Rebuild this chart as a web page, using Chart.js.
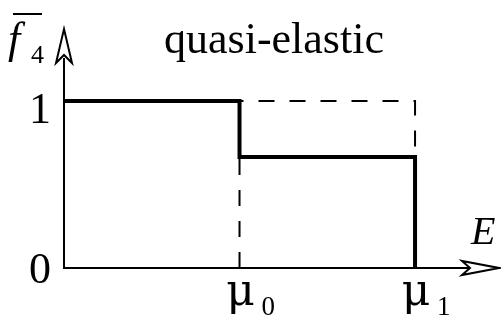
<!DOCTYPE html>
<html>
<head>
<meta charset="utf-8">
<script src="https://cdn.jsdelivr.net/npm/chart.js@4/dist/chart.umd.min.js"></script>
<style>
  html, body { margin: 0; padding: 0; background: #fff; }
  #box { width: 501px; height: 320px; }
</style>
</head>
<body>
<div id="box"><canvas id="myChart"></canvas></div>
<script>
// step function f4 over energy, edges at mu0 (x=1) and mu1 (x=2)
const stepX = [0, 1, 2];
const stepY = [1, 0.665, 0];

// dashed outline of the full-height box
const boundX = [1, 1, 2];
const boundY = [0, 1, 0.665];

const yTicks = [0, 1];
const xTicks = [1, 2];
const xTickSubs = ['0', '1'];

const xMax = 2.484;
const yMax = 1.437;

const serif = '"Liberation Serif", "DejaVu Serif", serif';

function toPoints(xs, ys) {
    return xs.map((x, i) => ({ x: x, y: ys[i] }));
}

function openArrow(ctx, tipX, tipY, dirX, dirY, len, half, notch) {
    // unit direction and its normal
    const nx = -dirY, ny = dirX;
    const bx = tipX - dirX * len, by = tipY - dirY * len;
    ctx.beginPath();
    ctx.moveTo(tipX, tipY);
    ctx.lineTo(bx + nx * half, by + ny * half);
    ctx.lineTo(tipX - dirX * (len - notch), tipY - dirY * (len - notch));
    ctx.lineTo(bx - nx * half, by - ny * half);
    ctx.closePath();
    ctx.fillStyle = '#fff';
    ctx.fill();
    ctx.stroke();
}

const axesPlugin = {
    id: 'axesPlugin',
    afterDatasetsDraw(chart) {
        const ctx = chart.ctx;
        const xs = chart.scales.x;
        const ys = chart.scales.y;
        const ox = xs.getPixelForValue(0);
        const oy = ys.getPixelForValue(0);
        const right = xs.getPixelForValue(xMax);
        const top = ys.getPixelForValue(yMax);

        ctx.save();
        ctx.strokeStyle = '#000';
        ctx.lineWidth = 2;
        ctx.lineJoin = 'miter';

        // axis lines
        ctx.beginPath();
        ctx.moveTo(ox, oy);
        ctx.lineTo(right - 30, oy);
        ctx.moveTo(ox, oy + 1);
        ctx.lineTo(ox, top + 30);
        ctx.stroke();

        openArrow(ctx, right - 1, oy, 1, 0, 37, 7, 8);
        openArrow(ctx, ox, top + 1, 0, -1, 34, 8, 8);

        ctx.fillStyle = '#000';

        // y tick labels
        ctx.font = '44px ' + serif;
        ctx.textAlign = 'center';
        ctx.textBaseline = 'alphabetic';
        yTicks.forEach(v => {
            const py = ys.getPixelForValue(v);
            ctx.fillText(String(v), 40, py + (v === 0 ? 15 : 22));
        });

        // x tick labels: mu with subscript
        xTicks.forEach((v, i) => {
            const px = xs.getPixelForValue(v);
            ctx.font = '44px "DejaVu Serif", serif';
            ctx.textAlign = 'center';
            ctx.fillText('\u03bc', px + 1, oy + 37);
            ctx.font = '27px ' + serif;
            ctx.textAlign = 'left';
            ctx.fillText(xTickSubs[i], px + 22, oy + 47);
        });

        // axis names
        ctx.font = 'italic 40px ' + serif;
        ctx.textAlign = 'left';
        ctx.fillText('E', 471, oy - 24);

        ctx.font = 'italic 44px ' + serif;
        ctx.fillText('f', 8, 53);
        ctx.font = '26px ' + serif;
        ctx.fillText('4', 31, 63);
        ctx.beginPath();
        ctx.moveTo(13, 14);
        ctx.lineTo(42, 14);
        ctx.stroke();

        // title
        ctx.font = '44px ' + serif;
        ctx.fillText('quasi-elastic', 164, 53);

        ctx.restore();
    }
};

const ctx = document.getElementById('myChart');

new Chart(ctx, {
    type: 'line',
    data: {
        datasets: [
            {
                data: toPoints(stepX, stepY),
                stepped: 'before',
                borderColor: '#000',
                borderWidth: 4,
                borderCapStyle: 'butt',
                borderJoinStyle: 'miter',
                pointRadius: 0,
                fill: false,
                order: 1
            },
            {
                data: toPoints(boundX, boundY),
                stepped: 'before',
                borderColor: '#000',
                borderWidth: 2,
                borderDash: [16, 15],
                borderCapStyle: 'butt',
                pointRadius: 0,
                fill: false,
                order: 2
            }
        ]
    },
    options: {
        responsive: true,
        maintainAspectRatio: false,
        animation: false,
        events: [],
        layout: { padding: { left: 64, right: 1, top: 28, bottom: 52 } },
        plugins: {
            legend: { display: false },
            tooltip: { enabled: false },
            title: { display: false }
        },
        scales: {
            x: { type: 'linear', display: false, min: 0, max: xMax },
            y: { type: 'linear', display: false, min: 0, max: yMax }
        }
    },
    plugins: [axesPlugin]
});
</script>
</body>
</html>
